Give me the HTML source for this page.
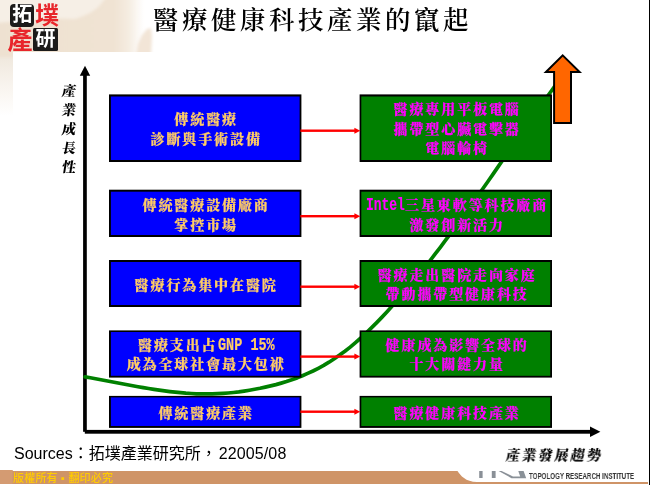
<!DOCTYPE html>
<html lang="zh-Hant">
<head>
<meta charset="utf-8">
<title>醫療健康科技產業的竄起</title>
<style>
html,body{margin:0;padding:0;background:#fff;}
body{width:650px;height:485px;position:relative;overflow:hidden;font-family:"Liberation Sans","Noto Sans CJK TC",sans-serif;}
#bg,#shapes{position:absolute;left:0;top:0;width:650px;height:485px;display:block;}
.t{position:absolute;white-space:nowrap;margin:0;padding:0;will-change:transform;}
#title{left:0;width:650px;top:0;height:40px;}
#title span{position:absolute;left:153px;top:3px;font-family:"Liberation Serif","Noto Serif CJK SC",serif;font-weight:600;font-size:25.5px;line-height:36px;letter-spacing:3.5px;color:#000;}
.box{will-change:transform;position:absolute;display:flex;flex-direction:column;justify-content:center;align-items:center;font-family:"Liberation Serif","Noto Serif CJK SC",serif;font-weight:900;font-size:14px;letter-spacing:1.9px;line-height:19.4px;white-space:nowrap;text-align:center;}
.box>div{padding-left:1.9px;-webkit-text-stroke:0.2px currentColor;}
.blue{left:109px;width:192.4px;color:#ffcc66;}
.green{left:359.6px;width:192.4px;color:#ff00ff;}
.r1{top:96.4px;height:67px;}
.r2{top:192.0px;height:47px;}
.r3{top:262.0px;height:46.7px;}
.r4{top:332.4px;height:46.3px;}
.r5{top:397.6px;height:31.3px;}
.hw{display:inline-block;font-family:"Liberation Mono",monospace;font-weight:700;font-size:18px;line-height:19.4px;letter-spacing:0;transform:scaleX(0.75);transform-origin:0 50%;vertical-align:baseline;}
.lg{position:absolute;will-change:transform;}
.dk{background:#1c1b1a;}
.ch{font-family:"Liberation Sans","Noto Sans CJK TC",sans-serif;font-weight:700;text-align:center;white-space:nowrap;overflow:visible;}
#ylab div{height:19px;transform:skewX(-9deg);}
#ylab{left:58.5px;top:81.6px;width:20px;font-family:"Liberation Serif","Noto Serif CJK SC",serif;font-weight:900;font-size:14px;line-height:19px;text-align:center;color:#000;white-space:normal;}
#xlab{left:506px;top:444.5px;font-family:"Liberation Serif","Noto Serif CJK SC",serif;font-weight:900;font-size:14px;letter-spacing:2.2px;transform:skewX(-9deg);line-height:22px;color:#000;}
#src{left:13.6px;top:442.9px;font-size:16px;line-height:22px;color:#000;font-family:"Liberation Sans","Noto Sans CJK TC",sans-serif;}
#copy{left:12.8px;top:470.5px;font-size:11px;font-weight:500;line-height:14px;color:#ffcc00;font-family:"Liberation Sans","Noto Sans CJK TC",sans-serif;letter-spacing:0.2px;}
#tri{left:529px;top:470.7px;font-size:8.4px;font-weight:700;line-height:10px;color:#333;font-family:"Liberation Sans",sans-serif;letter-spacing:0;transform:scaleX(0.74);transform-origin:0 0;}
</style>
</head>
<body>
<svg id="bg" viewBox="0 0 650 485" width="650" height="485">
  <defs>
    <linearGradient id="topg" x1="0" y1="0" x2="156" y2="0" gradientUnits="userSpaceOnUse">
      <stop offset="0" stop-color="#f6efe6"/>
      <stop offset="0.72" stop-color="#f6efe6"/>
      <stop offset="0.92" stop-color="#ffffff"/>
      <stop offset="1" stop-color="#ffffff"/>
    </linearGradient>
    <linearGradient id="patchg" x1="0" y1="0" x2="150" y2="0" gradientUnits="userSpaceOnUse">
      <stop offset="0" stop-color="#eee1d1"/>
      <stop offset="0.76" stop-color="#f0e3d3"/>
      <stop offset="0.86" stop-color="#f3e9dc" stop-opacity="0.75"/>
      <stop offset="0.97" stop-color="#fbf7f2" stop-opacity="0"/>
      <stop offset="1" stop-color="#ffffff" stop-opacity="0"/>
    </linearGradient>
    <linearGradient id="leftg" x1="0" y1="52" x2="0" y2="116" gradientUnits="userSpaceOnUse">
      <stop offset="0" stop-color="#eee6da"/>
      <stop offset="0.3" stop-color="#f4eee6"/>
      <stop offset="0.7" stop-color="#fbf8f4"/>
      <stop offset="1" stop-color="#ffffff"/>
    </linearGradient>
    <filter id="soft" x="-10%" y="-10%" width="120%" height="120%"><feGaussianBlur stdDeviation="1.6"/></filter>
  </defs>
  <rect x="0" y="0" width="650" height="485" fill="#fff"/>
  <rect x="0" y="0" width="156" height="52" fill="url(#topg)"/>
  <rect x="0" y="52" width="13" height="64" fill="url(#leftg)"/>
  <g filter="url(#soft)">
    <path d="M-5 23 L20 21 L45 19.5 L60 18.5 L75 19 L82 16.5 L90 13 L97 8 L101 4 L108 -5 L150 -5 L150 57 L-5 57 Z" fill="url(#patchg)"/>
    <path d="M136 56 L138 44 L142 35 L147 29 L151 28 L152 36 L151 56 Z" fill="#f2e5d7"/>
  </g>
  <rect x="13" y="52" width="637" height="433" fill="#fff"/>
  <!-- bottom band -->
  <path d="M0 470 H12.5 V471 H457.5 C460.5 475.5 465.5 481.8 477 482.1 H648 V484 H0 Z" fill="#cf9467"/>
  <rect x="0" y="470" width="12.5" height="14" fill="#d49b72"/>
  <rect x="649" y="0" width="1" height="485" fill="#000"/>
</svg>
<svg id="shapes" viewBox="0 0 650 485" width="650" height="485">
  <!-- axes -->
  <rect x="83.1" y="75" width="3.7" height="356.8" fill="#000"/>
  <polygon points="85,65.8 90.2,75.8 79.8,75.8" fill="#000"/>
  <rect x="84.8" y="429.9" width="506" height="3.8" fill="#000"/>
  <polygon points="600.4,431.8 590,426.6 590,437" fill="#000"/>
  <!-- growth curve -->
  <path id="curve" d="M85.0 376.9 L90.3 377.8 L95.6 378.8 L100.9 379.8 L106.2 380.8 L111.5 381.8 L116.8 382.8 L122.1 383.8 L127.4 384.8 L132.7 385.8 L138.0 386.7 L143.3 387.6 L148.6 388.5 L153.9 389.4 L159.2 390.2 L164.6 390.9 L169.9 391.6 L175.2 392.2 L180.5 392.7 L185.8 393.2 L191.1 393.5 L196.4 393.8 L201.7 393.9 L207.0 393.9 L212.3 393.9 L217.6 393.7 L222.9 393.4 L228.2 393.0 L233.5 392.5 L238.8 391.9 L244.1 391.1 L249.4 390.2 L254.7 389.3 L260.0 388.3 L265.3 387.1 L270.6 385.9 L275.9 384.6 L281.2 383.1 L286.5 381.5 L291.8 379.7 L297.1 377.9 L302.4 375.7 L307.7 373.4 L313.0 371.0 L318.3 368.3 L323.7 365.4 L329.0 362.2 L334.3 358.8 L339.6 355.1 L344.9 351.2 L350.2 347.1 L355.5 342.6 L360.8 338.0 L366.1 333.1 L371.4 327.9 L376.7 322.6 L382.0 317.1 L387.3 311.4 L392.6 305.6 L397.9 299.6 L403.2 293.5 L408.5 287.3 L413.8 280.9 L419.1 274.4 L424.4 267.8 L429.7 261.1 L435.0 254.2 L440.3 247.3 L445.6 240.2 L450.9 233.1 L456.2 225.9 L461.5 218.6 L466.8 211.2 L472.1 203.7 L477.4 196.3 L482.8 188.7 L488.1 181.2 L493.4 173.6 L498.7 165.9 L504.0 158.3 L509.3 150.7 L514.6 143.1 L519.9 135.5 L525.2 127.9 L530.5 120.3 L535.8 112.8 L541.1 105.3 L546.4 97.8 L551.7 90.5 L557.0 83.2" fill="none" stroke="#008000" stroke-width="3.7" stroke-linejoin="round" stroke-linecap="round"/>
  <!-- boxes -->
  <g id="blue">
    <rect x="109" y="94.4" width="192.4" height="67.6" fill="#000"/><rect x="110.9" y="96.5" width="188.7" height="63.5" fill="#0000ff"/>
    <rect x="109" y="189.7" width="192.4" height="47.3" fill="#000"/><rect x="110.9" y="191.7" width="188.7" height="43.3" fill="#0000ff"/>
    <rect x="109" y="260" width="192.4" height="47" fill="#000"/><rect x="110.9" y="262" width="188.7" height="43" fill="#0000ff"/>
    <rect x="109" y="330.4" width="192.4" height="47.2" fill="#000"/><rect x="110.9" y="332" width="188.7" height="43.8" fill="#0000ff"/>
    <rect x="109" y="395.9" width="192.4" height="32" fill="#000"/><rect x="110.9" y="397.4" width="188.7" height="28.6" fill="#0000ff"/>
  </g>
  <g id="green">
    <rect x="359.6" y="94.4" width="192.4" height="67.6" fill="#000"/><rect x="361.3" y="96.5" width="188.9" height="63.5" fill="#008000"/>
    <rect x="359.6" y="189.7" width="192.4" height="47.3" fill="#000"/><rect x="361.3" y="191.7" width="188.9" height="43.3" fill="#008000"/>
    <rect x="359.6" y="260" width="192.4" height="47" fill="#000"/><rect x="361.3" y="262" width="188.9" height="43" fill="#008000"/>
    <rect x="359.6" y="330.4" width="192.4" height="47.2" fill="#000"/><rect x="361.3" y="332" width="188.9" height="43.8" fill="#008000"/>
    <rect x="359.6" y="395.9" width="192.4" height="32" fill="#000"/><rect x="361.3" y="397.4" width="188.9" height="28.6" fill="#008000"/>
  </g>
  <!-- red connectors -->
  <g fill="#ff0000">
    <g id="a1"><rect x="300.4" y="129.5" width="55" height="2.4"/><polygon points="360.3,130.7 354.4,127.7 354.4,133.7"/></g>
    <g id="a2"><rect x="300.4" y="215.0" width="55" height="2.4"/><polygon points="360.3,216.2 354.4,213.2 354.4,219.2"/></g>
    <g id="a3"><rect x="300.4" y="285.5" width="55" height="2.4"/><polygon points="360.3,286.7 354.4,283.7 354.4,289.7"/></g>
    <g id="a4"><rect x="300.4" y="355.4" width="55" height="2.4"/><polygon points="360.3,356.6 354.4,353.6 354.4,359.6"/></g>
    <g id="a5"><rect x="300.4" y="410.5" width="55" height="2.4"/><polygon points="360.3,411.7 354.4,408.7 354.4,414.7"/></g>
  </g>
  <!-- big orange arrow -->
  <polygon points="562.7,55.4 579.6,72 571,72 571,123 554.1,123 554.1,72 545.9,72" fill="#ff6600" stroke="#000" stroke-width="2" stroke-linejoin="miter"/>
  <!-- TRI logo fragment -->
  <g fill="#6d757e" opacity="0.8">
    <rect x="479.2" y="471" width="3.4" height="7"/>
    <rect x="491.8" y="471" width="3.8" height="7"/>
    <path d="M498.6 471 L501.6 471 L513 476.4 L520.2 476.4 L518.3 471 L523.6 471 L526.2 478.2 L511.5 478.2 Z"/>
  </g>
</svg>


<div id="logo">
  <div class="lg dk" style="left:9.6px;top:3.6px;width:24.4px;height:23px;border-radius:4px;"></div>
  <div class="lg dk" style="left:33.2px;top:27.5px;width:25px;height:23.3px;border-radius:1.5px;"></div>
  <div class="lg ch" style="left:9.6px;top:3.6px;width:24.4px;height:23px;line-height:21px;font-size:20px;color:#fff;">拓</div>
  <div class="lg ch" style="left:33.8px;top:5px;width:26px;height:23px;line-height:21px;font-size:24px;color:#e8262b;">墣</div>
  <div class="lg ch" style="left:6.5px;top:28.6px;width:26px;height:23.3px;line-height:22px;font-size:25px;color:#e8262b;">產</div>
  <div class="lg ch" style="left:33.2px;top:27.5px;width:25px;height:23.3px;line-height:22px;font-size:20px;color:#fff;">研</div>
</div>
<div class="t" id="title"><span>醫療健康科技產業的竄起</span></div>

<div class="t" id="ylab"><div>產</div><div>業</div><div>成</div><div>長</div><div>性</div></div>
<div class="t" id="xlab">產業發展趨勢</div>

<div class="box blue r1"><div>傳統醫療</div><div>診斷與手術設備</div></div>
<div class="box blue r2"><div>傳統醫療設備廠商</div><div>掌控市場</div></div>
<div class="box blue r3"><div>醫療行為集中在醫院</div></div>
<div class="box blue r4"><div>醫療支出占<span class="hw" style="margin-right:-18.9px">GNP 15%</span></div><div>成為全球社會最大包袱</div></div>
<div class="box blue r5"><div>傳統醫療產業</div></div>

<div class="box green r1"><div>醫療專用平板電腦</div><div>攜帶型心臟電擊器</div><div>電腦輪椅</div></div>
<div class="box green r2"><div><span class="hw" style="margin-right:-15.1px;transform:scaleX(0.72)">Intel</span>三星東軟等科技廠商</div><div>激發創新活力</div></div>
<div class="box green r3"><div>醫療走出醫院走向家庭</div><div>帶動攜帶型健康科技</div></div>
<div class="box green r4"><div>健康成為影響全球的</div><div>十大關鍵力量</div></div>
<div class="box green r5"><div>醫療健康科技產業</div></div>

<div class="t" id="src">Sources：拓墣產業研究所，<span style="margin-left:2px;letter-spacing:0.12px">22005/08</span></div>
<div class="t" id="copy">版權所有 ▪ 翻印必究</div>
<div class="t" id="tri">TOPOLOGY RESEARCH INSTITUTE</div>
</body>
</html>
